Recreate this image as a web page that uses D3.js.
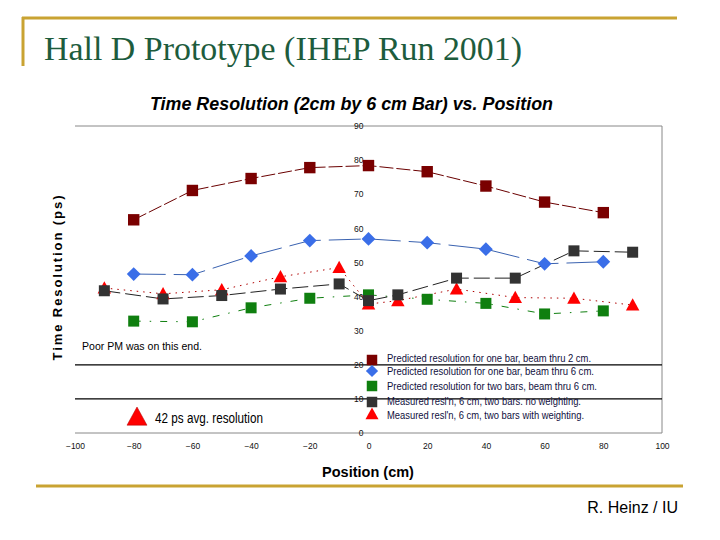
<!DOCTYPE html>
<html><head><meta charset="utf-8">
<script src="https://cdn.jsdelivr.net/npm/d3@7"></script>
<style>body{margin:0;background:#fff}svg{display:block}</style>
</head><body>
<svg id="c" width="720" height="540"></svg>
<script>
// ---- data ----
const posPredicted = [-80, -60, -40, -20, 0, 20, 40, 60, 80];
const posMeasured = [-90, -70, -50, -30, -10, 0, 10, 30, 50, 70, 90];
const oneBar2cm = [62.5, 71.1, 74.6, 77.8, 78.4, 76.6, 72.4, 67.7, 64.6];
const oneBar6cm = [46.6, 46.4, 51.9, 56.4, 56.9, 55.8, 53.9, 49.6, 50.2];
const twoBars6cm = [32.8, 32.6, 36.7, 39.5, 40.5, 39.2, 38.0, 34.9, 35.8];
const measNoWeight = [41.7, 39.3, 40.3, 42.2, 43.7, 38.8, 40.5, 45.4, 45.4, 53.4, 53.0];
const measWeight = [42.5, 40.8, 42.0, 45.8, 48.5, 37.8, 38.8, 42.2, 39.7, 39.5, 37.5];
const xTicks = [-100, -80, -60, -40, -20, 0, 20, 40, 60, 80, 100];
const yTicks = [0, 10, 20, 30, 40, 50, 60, 70, 80, 90];
const legendLabels = [
  "Predicted resolution for one bar, beam thru 2 cm.",
  "Predicted resolution for one bar, beam thru 6 cm.",
  "Predicted resolution for two bars, beam thru 6 cm.",
  "Measured resl'n, 6 cm, two bars. no weighting.",
  "Measured resl'n, 6 cm, two bars with weighting."
];

const svg = d3.select("#c");
const gold = "#c9a332";

// slide decoration
svg.append("line").attr("x1",22).attr("x2",677).attr("y1",18).attr("y2",18).attr("stroke",gold).attr("stroke-width",3);
svg.append("line").attr("x1",23).attr("x2",23).attr("y1",17).attr("y2",66).attr("stroke",gold).attr("stroke-width",3);
svg.append("line").attr("x1",36).attr("x2",683).attr("y1",486).attr("y2",486).attr("stroke",gold).attr("stroke-width",3);
svg.append("text").attr("x",44).attr("y",60).attr("font-family","Liberation Serif, Times New Roman, serif")
  .attr("font-size",34).attr("fill","#1d5c3d").attr("textLength",478).attr("lengthAdjust","spacingAndGlyphs")
  .text("Hall D Prototype (IHEP Run 2001)");
svg.append("text").attr("x",678).attr("y",513).attr("text-anchor","end").attr("font-family","Liberation Sans, Arial, sans-serif")
  .attr("font-size",16).attr("fill","#000").text("R. Heinz / IU");

// chart
const x = d3.scaleLinear().domain([-100, 100]).range([75, 662]);
const y = d3.scaleLinear().domain([0, 90]).range([433, 126]);
const font = "Liberation Sans, Arial, sans-serif";

svg.append("text").attr("x",150).attr("y",110).attr("font-family",font)
  .attr("font-weight","bold").attr("font-style","italic").attr("font-size",17.5).attr("fill","#000")
  .attr("textLength",403).attr("lengthAdjust","spacingAndGlyphs")
  .text("Time Resolution (2cm by 6 cm Bar) vs. Position");

// frame
svg.append("line").attr("x1",x(-100)).attr("x2",x(100)).attr("y1",y(90)).attr("y2",y(90)).attr("stroke","#888");
svg.append("line").attr("x1",x(100)).attr("x2",x(100)).attr("y1",y(90)).attr("y2",y(0)).attr("stroke","#888");
svg.append("line").attr("x1",x(-100)).attr("x2",x(100)).attr("y1",y(0)).attr("y2",y(0)).attr("stroke","#888");
[10, 20].forEach(v => svg.append("line").attr("x1",x(-100)).attr("x2",x(100)).attr("y1",y(v)).attr("y2",y(v)).attr("stroke","#000").attr("stroke-width",1.2));

// y tick labels at x=0
const yAxis = d3.axisLeft(y).tickValues(yTicks).tickSize(0).tickPadding(5);
const gy = svg.append("g").attr("transform",`translate(${x(0)},0)`).call(yAxis);
gy.select(".domain").remove();
gy.selectAll("text").attr("font-family",font).attr("font-size",8.5).attr("fill","#111");

// x tick labels
const xAxis = d3.axisBottom(x).tickValues(xTicks).tickSize(0).tickPadding(10);
const gx = svg.append("g").attr("transform",`translate(0,${y(0)})`).call(xAxis);
gx.select(".domain").remove();
gx.selectAll("text").attr("font-family",font).attr("font-size",8.5).attr("fill","#111");

svg.append("text").attr("x",368).attr("y",477).attr("text-anchor","middle").attr("font-family",font)
  .attr("font-weight","bold").attr("font-size",14.5).attr("fill","#000").text("Position (cm)");
svg.append("text").attr("transform","translate(62,278) rotate(-90)").attr("text-anchor","middle").attr("font-family",font)
  .attr("font-weight","bold").attr("font-size",13).attr("fill","#000")
  .attr("textLength",165).attr("lengthAdjust","spacing").text("Time Resolution (ps)");

const diamond = { draw(ctx, size) { const r = Math.sqrt(size) / 2; ctx.moveTo(0,-r); ctx.lineTo(r,0); ctx.lineTo(0,r); ctx.lineTo(-r,0); ctx.closePath(); } };
const triangle = { draw(ctx, size) { const h = Math.sqrt(size); ctx.moveTo(0,-h*0.55); ctx.lineTo(h*0.55,h*0.45); ctx.lineTo(-h*0.55,h*0.45); ctx.closePath(); } };

const series = [
  {xs: posMeasured, ys: measWeight, color:"#ff0000", lineColor:"#b00000", dash:"1.5,5", sym: triangle, size: 150},
  {xs: posPredicted, ys: twoBars6cm, color:"#0f7f0f", lineColor:"#0f7f0f", dash:"7,9,1.5,9", sym: d3.symbolSquare, size: 121},
  {xs: posMeasured, ys: measNoWeight, color:"#333333", lineColor:"#222", dash:"16,5", sym: d3.symbolSquare, size: 121},
  {xs: posPredicted, ys: oneBar6cm, color:"#3a6ee8", lineColor:"#3a62b0", dash:"32,8", sym: diamond, size: 190},
  {xs: posPredicted, ys: oneBar2cm, color:"#7a0000", lineColor:"#6a0000", dash:"14,3", sym: d3.symbolSquare, size: 130}
];
const line = d3.line().x(d => x(d[0])).y(d => y(d[1]));
series.forEach(s => {
  const pts = s.xs.map((v,i) => [v, s.ys[i]]);
  svg.append("path").attr("d", line(pts)).attr("fill","none").attr("stroke",s.lineColor).attr("stroke-width",1).attr("stroke-dasharray",s.dash);
});
series.forEach(s => {
  const pts = s.xs.map((v,i) => [v, s.ys[i]]);
  svg.append("g").selectAll("path").data(pts).join("path")
    .attr("transform", d => `translate(${x(d[0])},${y(d[1])})`)
    .attr("d", d3.symbol().type(s.sym).size(s.size)).attr("fill", s.color);
});

// legend
const legendOrder = [series[4], series[3], series[1], series[2], series[0]];
const legendY = [360, 371, 386, 402, 414];
const textY = [358, 371.5, 386.5, 401.5, 415.5];
legendOrder.forEach((s,i) => {
  svg.append("path").attr("transform",`translate(372,${legendY[i]})`)
    .attr("d", d3.symbol().type(s.sym).size(s.sym === triangle ? 140 : s.sym === diamond ? 150 : 110)).attr("fill", s.color);
  svg.append("text").attr("x",387).attr("y",textY[i]).attr("dy","0.35em").attr("font-family",font)
    .attr("font-size",10.5).attr("fill","#101040").attr("textLength",[204,207,210,194,197][i]).attr("lengthAdjust","spacingAndGlyphs")
    .text(legendLabels[i]);
});

// annotations
svg.append("text").attr("x",82).attr("y",346).attr("dy","0.35em").attr("font-family",font).attr("font-size",11.5)
  .attr("fill","#000").attr("textLength",120).attr("lengthAdjust","spacingAndGlyphs").text("Poor PM was on this end.");
svg.append("path").attr("transform","translate(137,417)").attr("d", d3.symbol().type(triangle).size(330)).attr("fill","#ff0000").attr("stroke","#a00").attr("stroke-width",0.5);
svg.append("text").attr("x",155).attr("y",418).attr("dy","0.35em").attr("font-family",font).attr("font-size",14)
  .attr("fill","#000").attr("textLength",108).attr("lengthAdjust","spacingAndGlyphs").text("42 ps avg. resolution");
</script>
</body></html>
